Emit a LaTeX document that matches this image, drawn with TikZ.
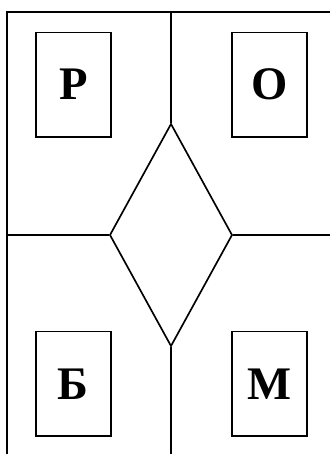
\documentclass[tikz,border=0pt]{standalone}
\usepackage{fontspec}
\setmainfont{Liberation Serif}
\usepackage{tikz}
\usetikzlibrary{shapes.geometric}

\begin{document}
\begin{tikzpicture}[
  x=0.75pt, y=-0.75pt, line width=1.25pt,
  letterbox/.style={draw, minimum width=56.25pt, minimum height=78.5pt, inner sep=0pt, font=\bfseries\fontsize{35}{40}\selectfont},
  rhomb/.style={draw, diamond, minimum width=92pt, minimum height=167pt, inner sep=0pt},
]
  \useasboundingbox (0,0) rectangle (329,454);

  % frame and cross
  \coordinate (tl) at (7.3,11.7);
  \coordinate (tr) at (330,11.7);
  \coordinate (bl) at (7.3,455);
  \coordinate (top) at (171,11.7);
  \coordinate (bot) at (171,455);
  \coordinate (left) at (7.3,235);
  \coordinate (right) at (330,235);

  \node[rhomb] (centre) at (171,235) {};

  \node[letterbox] (r) at (73.3,84.7) {Р};
  \node[letterbox] (o) at (269.8,84.7) {О};
  \node[letterbox] (b) at (73.3,383.8) {Б};
  \node[letterbox] (m) at (269.8,383.8) {М};

  \draw (bl) -- (tl) -- (tr);
  \draw (top) -- (centre.north);
  \draw (centre.south) -- (bot);
  \draw (left) -- (centre.west);
  \draw (centre.east) -- (right);
\end{tikzpicture}
\end{document}
